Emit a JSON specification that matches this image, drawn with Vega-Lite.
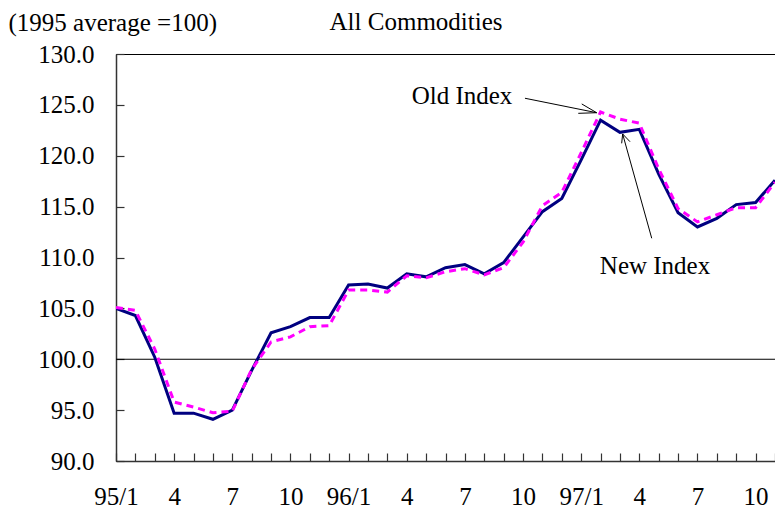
{
  "$schema": "https://vega.github.io/schema/vega-lite/v6.json",
  "width": 659,
  "height": 407,
  "autosize": "none",
  "padding": {"left": 116, "top": 54, "right": 0, "bottom": 51},
  "background": "white",
  "config": {
    "view": {"stroke": "black", "strokeWidth": 1},
    "font": "Liberation Serif",
    "axis": {"grid": false}
  },
  "datasets": {
    "idx": [
      {"m": 0, "newIdx": 105.0, "oldIdx": 105.1},
      {"m": 1, "newIdx": 104.3, "oldIdx": 104.8},
      {"m": 2, "newIdx": 100.2, "oldIdx": 101.0},
      {"m": 3, "newIdx": 94.7, "oldIdx": 95.8},
      {"m": 4, "newIdx": 94.7, "oldIdx": 95.3},
      {"m": 5, "newIdx": 94.1, "oldIdx": 94.75},
      {"m": 6, "newIdx": 95.0, "oldIdx": 94.9},
      {"m": 7, "newIdx": 98.9, "oldIdx": 99.0},
      {"m": 8, "newIdx": 102.6, "oldIdx": 101.7},
      {"m": 9, "newIdx": 103.2, "oldIdx": 102.2},
      {"m": 10, "newIdx": 104.1, "oldIdx": 103.2},
      {"m": 11, "newIdx": 104.1, "oldIdx": 103.3},
      {"m": 12, "newIdx": 107.3, "oldIdx": 106.8},
      {"m": 13, "newIdx": 107.4, "oldIdx": 106.8},
      {"m": 14, "newIdx": 107.0, "oldIdx": 106.6},
      {"m": 15, "newIdx": 108.4, "oldIdx": 108.2},
      {"m": 16, "newIdx": 108.1, "oldIdx": 108.0},
      {"m": 17, "newIdx": 109.0, "oldIdx": 108.6},
      {"m": 18, "newIdx": 109.3, "oldIdx": 108.9},
      {"m": 19, "newIdx": 108.4, "oldIdx": 108.3},
      {"m": 20, "newIdx": 109.5, "oldIdx": 109.0},
      {"m": 21, "newIdx": 112.0, "oldIdx": 111.5},
      {"m": 22, "newIdx": 114.5, "oldIdx": 115.1},
      {"m": 23, "newIdx": 115.8, "oldIdx": 116.4},
      {"m": 24, "newIdx": 119.6, "oldIdx": 120.3},
      {"m": 25, "newIdx": 123.5, "oldIdx": 124.3},
      {"m": 26, "newIdx": 122.3, "oldIdx": 123.6},
      {"m": 27, "newIdx": 122.6, "oldIdx": 123.2},
      {"m": 28, "newIdx": 118.2, "oldIdx": 118.7},
      {"m": 29, "newIdx": 114.4, "oldIdx": 114.8},
      {"m": 30, "newIdx": 113.0, "oldIdx": 113.5},
      {"m": 31, "newIdx": 113.85, "oldIdx": 114.2},
      {"m": 32, "newIdx": 115.2, "oldIdx": 114.9},
      {"m": 33, "newIdx": 115.4, "oldIdx": 114.9},
      {"m": 34, "newIdx": 117.6, "oldIdx": 117.4}
    ],
    "arrows": [
      {"x": 21.10, "y": 125.65, "x2": 24.80, "y2": 124.23},
      {"x": 24.03, "y": 125.09, "x2": 24.80, "y2": 124.23},
      {"x": 23.85, "y": 124.17, "x2": 24.80, "y2": 124.23},
      {"x": 27.64, "y": 111.89, "x2": 26.14, "y2": 122.14},
      {"x": 26.09, "y": 121.22, "x2": 26.14, "y2": 122.14},
      {"x": 26.52, "y": 121.38, "x2": 26.14, "y2": 122.14}
    ],
    "labels": [
      {"x": 17.85, "y": 125.87, "label": "Old Index"},
      {"x": 27.81, "y": 109.16, "label": "New Index"},
      {"x": 15.48, "y": 133.15, "label": "All Commodities"}
    ],
    "ref": [{"y": 100}]
  },
  "layer": [
    {
      "data": {"name": "ref"},
      "mark": {"type": "rule", "color": "black", "strokeWidth": 1},
      "encoding": {
        "y": {"field": "y", "type": "quantitative", "scale": {"domain": [90, 130], "nice": false, "zero": false},
          "axis": {"values": [90, 95, 100, 105, 110, 115, 120, 125, 130], "tickCount": 50, "format": ".1f", "tickSize": -8, "labelPadding": 30,
            "labelFont": "Liberation Serif", "labelFontSize": 25, "labelColor": "black", "domainColor": "#333", "domainWidth": 1.5, "tickColor": "#333", "tickWidth": 1.2,
            "title": "(1995 average =100)", "titleFont": "Liberation Serif", "titleFontSize": 25, "titleFontWeight": "normal", "titleColor": "black",
            "titleAngle": 0, "titleAlign": "left", "titleBaseline": "middle", "titleX": -108, "titleY": -32}}
      }
    },
    {
      "data": {"name": "idx"},
      "mark": {"type": "line", "color": "#000080", "strokeWidth": 3, "clip": true},
      "encoding": {
        "x": {"field": "m", "type": "quantitative", "scale": {"domain": [0, 34], "nice": false, "zero": false},
          "axis": {"values": [0,1,2,3,4,5,6,7,8,9,10,11,12,13,14,15,16,17,18,19,20,21,22,23,24,25,26,27,28,29,30,31,32,33,34], "tickCount": 50, "tickSize": -8, "labelPadding": 43, "labelBaseline": "middle", "labelOverlap": false, "labelFlush": false, "labelBound": false, "title": null,
            "labelFont": "Liberation Serif", "labelFontSize": 25, "labelColor": "black", "domainColor": "#333", "domainWidth": 1.5, "tickColor": "#333", "tickWidth": 1.2,
            "labelExpr": "datum.value % 3 == 0 ? (datum.value % 12 == 0 ? (95 + floor(datum.value / 12)) + '/1' : '' + (datum.value % 12 + 1)) : ''"}},
        "y": {"field": "newIdx", "type": "quantitative"}
      }
    },
    {
      "data": {"name": "idx"},
      "mark": {"type": "line", "color": "#FF00FF", "strokeWidth": 3, "strokeDash": [7, 5], "clip": true},
      "encoding": {
        "x": {"field": "m", "type": "quantitative"},
        "y": {"field": "oldIdx", "type": "quantitative"}
      }
    },
    {
      "data": {"name": "arrows"},
      "mark": {"type": "rule", "color": "black", "strokeWidth": 1},
      "encoding": {
        "x": {"field": "x", "type": "quantitative"},
        "y": {"field": "y", "type": "quantitative"},
        "x2": {"field": "x2"},
        "y2": {"field": "y2"}
      }
    },
    {
      "data": {"name": "labels"},
      "mark": {"type": "text", "font": "Liberation Serif", "fontSize": 25, "color": "black", "baseline": "middle", "align": "center"},
      "encoding": {
        "x": {"field": "x", "type": "quantitative"},
        "y": {"field": "y", "type": "quantitative"},
        "text": {"field": "label"}
      }
    }
  ]
}
